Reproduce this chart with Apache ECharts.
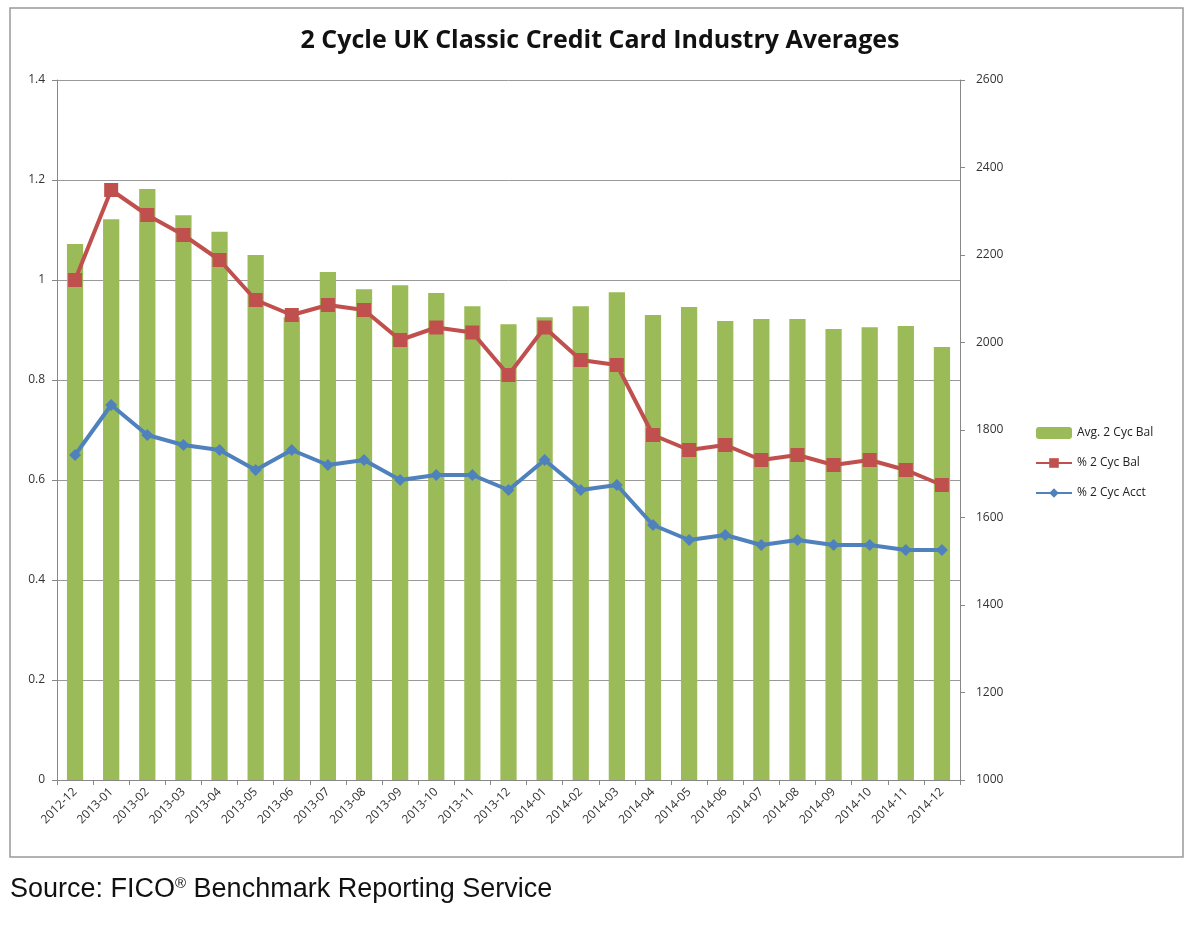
<!DOCTYPE html>
<html>
<head>
<meta charset="utf-8">
<script src="https://cdn.jsdelivr.net/npm/echarts@6/dist/echarts.min.js"></script>
<style>
html,body{margin:0;padding:0;background:#fff;}
#box{width:1200px;height:929px;}
</style>
</head>
<body>
<div id="box"></div>
<script>
// months
var months = ['2012-12','2013-01','2013-02','2013-03','2013-04','2013-05','2013-06','2013-07','2013-08','2013-09','2013-10','2013-11','2013-12',
	'2014-01','2014-02','2014-03','2014-04','2014-05','2014-06','2014-07','2014-08','2014-09','2014-10','2014-11','2014-12'];
// Avg. 2 Cyc Bal (right axis)
var avgBal = [2225,2282,2351,2291,2253,2200,2058,2161,2122,2131,2113,2083,2042,2058,2083,2115,2063,2081,2049,2054,2054,2031,2035,2038,1990];
// % 2 Cyc Bal (left axis)
var pctBal = [1.0,1.18,1.13,1.09,1.04,0.96,0.93,0.95,0.94,0.88,0.905,0.895,0.81,0.905,0.84,0.83,0.69,0.66,0.67,0.64,0.65,0.63,0.64,0.62,0.59];
// % 2 Cyc Acct (left axis)
var pctAcct = [0.65,0.75,0.69,0.67,0.66,0.62,0.66,0.63,0.64,0.60,0.61,0.61,0.58,0.64,0.58,0.59,0.51,0.48,0.49,0.47,0.48,0.47,0.47,0.46,0.46];

var axisFont = {fontFamily:'Open Sans, sans-serif',fontSize:12,color:'#333'};

var option = {
	backgroundColor:'#fff',
	animation:false,
	title:{
		text:'2 Cycle UK Classic Credit Card Industry Averages',
		left:'center',
		top:23,
		textStyle:{fontFamily:'Open Sans, sans-serif',fontSize:25,fontWeight:'bold',color:'#111'}
	},
	legend:{
		orient:'vertical',
		left:1030,
		top:422,
		itemWidth:36,
		itemHeight:12,
		itemGap:18,
		textStyle:{fontFamily:'Open Sans, sans-serif',fontSize:12,color:'#222'},
		data:['Avg. 2 Cyc Bal','% 2 Cyc Bal','% 2 Cyc Acct']
	},
	grid:{left:57,right:240,top:80,bottom:149},
	xAxis:{
		type:'category',
		data:months,
		axisLine:{lineStyle:{color:'#888'}},
		axisTick:{show:true,lineStyle:{color:'#888'}},
		axisLabel:Object.assign({rotate:45,margin:10},axisFont)
	},
	yAxis:[
		{
			type:'value',min:0,max:1.4,interval:0.2,
			axisLine:{show:true,lineStyle:{color:'#888'}},
			axisTick:{show:true,lineStyle:{color:'#888'}},
			splitLine:{lineStyle:{color:'#999'}},
			axisLabel:Object.assign({margin:12},axisFont)
		},
		{
			type:'value',min:1000,max:2600,interval:200,
			axisLine:{show:true,lineStyle:{color:'#888'}},
			axisTick:{show:true,lineStyle:{color:'#888'}},
			splitLine:{show:false},
			axisLabel:Object.assign({margin:16,formatter:function (v) { return String(v); }},axisFont)
		}
	],
	series:[
		{
			name:'Avg. 2 Cyc Bal',
			type:'bar',
			yAxisIndex:1,
			barWidth:'45%',
			itemStyle:{color:'#9BBB59'},
			data:avgBal
		},
		{
			name:'% 2 Cyc Bal',
			type:'line',
			yAxisIndex:0,
			symbol:'rect',
			symbolSize:14,
			lineStyle:{color:'#C0504D',width:4},
			itemStyle:{color:'#C0504D'},
			data:pctBal
		},
		{
			name:'% 2 Cyc Acct',
			type:'line',
			yAxisIndex:0,
			symbol:'diamond',
			symbolSize:12,
			lineStyle:{color:'#4F81BD',width:4},
			itemStyle:{color:'#4F81BD'},
			data:pctAcct
		}
	],
	graphic:[
		{
			type:'rect',
			shape:{x:10,y:8,width:1173,height:849},
			style:{fill:null,stroke:'#999',lineWidth:1.5},
			silent:true,
			z:-1
		},
		{
			type:'text',
			left:10,
			top:876,
			style:{
				text:'{t|Source: FICO}{s|®}{t| Benchmark Reporting Service}',
				rich:{
					t:{font:'27px "Liberation Sans", Arial, sans-serif',fill:'#111',verticalAlign:'bottom'},
					s:{font:'15px "Liberation Sans", Arial, sans-serif',fill:'#111',verticalAlign:'top',padding:[0,0,12,0]}
				}
			}
		}
	]
};
var chart = echarts.init(document.getElementById('box'));
chart.setOption(option);
</script>
</body>
</html>
